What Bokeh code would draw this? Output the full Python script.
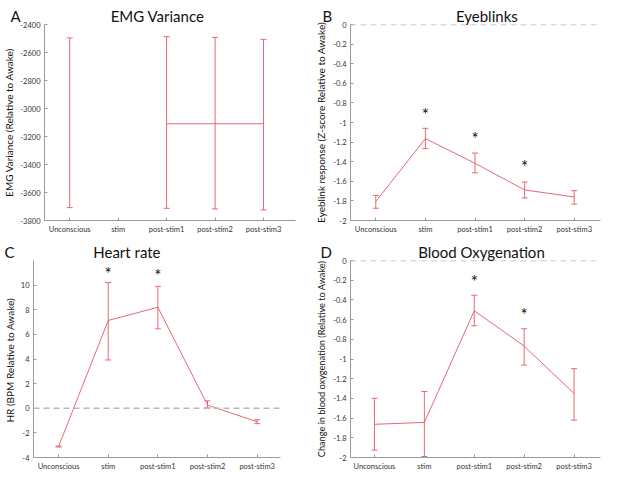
import math
from bokeh.plotting import figure
from bokeh.models import (Range1d, FixedTicker, Whisker, TeeHead, ColumnDataSource, Span)
from bokeh.layouts import column, row
from bokeh.embed import file_html
from bokeh.resources import INLINE
from bokeh.core.properties import value

nan = float("nan")

categories = ["Unconscious", "stim", "post-stim1", "post-stim2", "post-stim3"]

# Panel A: EMG variance
emg_mean = [-3102, nan, -3109, -3109, -3109]
emg_upper = [-2496, nan, -2487, -2492, -2506]
emg_lower = [-3708, nan, -3713, -3717, -3724]
emg_yticks = [-3800, -3600, -3400, -3200, -3000, -2800, -2600, -2400]
emg_ylabels = ["-3800", "-3600", "-3400", "-3200", "-3000", "-2800", "-2600", "-2400"]

# Panel B: Eyeblinks
blink_mean = [-1.806, -1.164, -1.416, -1.688, -1.760]
blink_upper = [-1.744, -1.059, -1.312, -1.607, -1.695]
blink_lower = [-1.875, -1.266, -1.514, -1.770, -1.833]
blink_star_cats = ["stim", "post-stim1", "post-stim2"]
blink_star_y = [-0.879, -1.125, -1.413]

# Panel C: Heart rate
hr_mean = [-3.11, 7.13, 8.20, 0.26, -1.10]
hr_upper = [-3.07, 10.21, 9.90, 0.60, -0.94]
hr_lower = [-3.15, 3.92, 6.45, 0.03, -1.25]
hr_star_cats = ["stim", "post-stim1"]
hr_star_y = [11.25, 11.07]
hr_yticks = [-4, -2, 0, 2, 4, 6, 8, 10]
hr_ylabels = ["-4", "-2", "0", "2", "4", "6", "8", "10"]

# Panel D: Blood oxygenation
oxy_mean = [-1.663, -1.644, -0.510, -0.869, -1.350]
oxy_upper = [-1.399, -1.330, -0.353, -0.693, -1.098]
oxy_lower = [-1.925, -1.990, -0.663, -1.062, -1.621]
oxy_star_cats = ["post-stim1", "post-stim2"]
oxy_star_y = [-0.176, -0.503]

frac_yticks = [0, -0.2, -0.4, -0.6, -0.8, -1, -1.2, -1.4, -1.6, -1.8, -2]
frac_ylabels = ["0", "-0.2", "-0.4", "-0.6", "-0.8", "-1", "-1.2", "-1.4", "-1.6", "-1.8", "-2"]

RED = "#e26a74"
AXIS = "#9a9a9a"
FONT = "Lato"
EM = "\u2003"
EN = "\u2002"


def panel(letter, gap, title, ylabel, means, uppers, lowers, yrange, yticks, ylabels,
          xrange, W, H, left, right, bottom, title_offset,
          ylabel_size, ylabel_standoff, star_cats=None, star_y=None, zero=False):
    p = figure(width=W, height=H, output_backend="svg", toolbar_location=None,
               x_range=Range1d(*xrange), y_range=Range1d(*yrange),
               min_border_left=left, min_border_right=right,
               min_border_top=24, min_border_bottom=bottom)
    p.outline_line_color = None
    p.grid.visible = False
    p.background_fill_color = "white"
    p.border_fill_color = "white"

    p.title.text = letter + gap + title
    p.title.align = "left"
    p.title.offset = title_offset
    p.title.standoff = 0
    p.title.text_font = FONT
    p.title.text_font_style = "normal"
    p.title.text_font_size = "15px"
    p.title.text_color = "#111111"

    xs = [i + 1 for i in range(len(categories))]
    p.xaxis.ticker = FixedTicker(ticks=xs)
    p.xaxis.major_label_overrides = {x: c for x, c in zip(xs, categories)}
    p.yaxis.ticker = FixedTicker(ticks=yticks)
    p.yaxis.major_label_overrides = {t: s for t, s in zip(yticks, ylabels)}
    for ax in (p.xaxis[0], p.yaxis[0]):
        ax.axis_line_color = AXIS
        ax.major_tick_line_color = AXIS
        ax.minor_tick_line_color = None
        ax.major_tick_in = 3
        ax.major_tick_out = 0
        ax.major_label_text_font = FONT
        ax.major_label_text_color = "#333333"
    p.xaxis.major_label_text_font_size = "7.5px"
    p.xaxis.major_label_standoff = 4
    p.yaxis.major_label_text_font_size = "7.5px"
    p.yaxis.major_label_standoff = 4
    p.yaxis.axis_label = ylabel
    p.yaxis.axis_label_text_font = FONT
    p.yaxis.axis_label_text_font_style = "normal"
    p.yaxis.axis_label_text_font_size = ylabel_size
    p.yaxis.axis_label_text_color = "#111111"
    p.yaxis.axis_label_standoff = ylabel_standoff

    if zero:
        p.add_layout(Span(location=0, dimension="width", line_color="#b8b8b8",
                          line_dash="6 4", line_width=1.5))

    p.line(xs, means, line_color=RED, line_width=1)
    keep = [i for i in range(len(xs)) if not math.isnan(means[i])]
    src = ColumnDataSource(dict(x=[xs[i] for i in keep],
                                upper=[uppers[i] for i in keep],
                                lower=[lowers[i] for i in keep]))
    p.add_layout(Whisker(base="x", upper="upper", lower="lower", source=src,
                         line_color=RED, line_width=1, level="glyph",
                         upper_head=TeeHead(size=6, line_color=RED, line_width=1),
                         lower_head=TeeHead(size=6, line_color=RED, line_width=1)))

    if star_cats:
        sx = [categories.index(c) + 1 for c in star_cats]
        p.text(sx, star_y, text=["*"] * len(sx), text_font=value(FONT),
               text_font_size="17px", text_align="center", text_baseline="alphabetic",
               y_offset=4, text_color="#111111")
    return p


pa = panel("A", EM * 8, "EMG Variance", "EMG Variance (Relative to Awake)",
           emg_mean, emg_upper, emg_lower, (-3800, -2400), emg_yticks, emg_ylabels,
           (0.48, 5.66), 300, 236, 35, 5, 15, -34, "10px", 2)
pb = panel("B", EM * 11, "Eyeblinks", "Eyeblink response (Z-score Relative to Awake)",
           blink_mean, blink_upper, blink_lower, (-2, 0), frac_yticks, frac_ylabels,
           (0.49, 5.53), 301, 236, 50, 1, 15, -28, "10px", 3,
           blink_star_cats, blink_star_y, zero=True)
pc = panel("C", EM * 7, "Heart rate", "HR  (BPM Relative to Awake)",
           hr_mean, hr_upper, hr_lower, (-4, 12), hr_yticks, hr_ylabels,
           (0.495, 5.47), 300, 237, 30, 20, 16, -29, "10px", 2,
           hr_star_cats, hr_star_y, zero=True)
pd_ = panel("D", EM * 7 + EN, "Blood Oxygenation", "Change in blood oxygenation (Relative to Awake)",
            oxy_mean, oxy_upper, oxy_lower, (-2, 0), frac_yticks, frac_ylabels,
            (0.52, 5.53), 301, 237, 50, 1, 16, -30, "9.2px", 3,
            oxy_star_cats, oxy_star_y, zero=True)

layout = column(row(pa, pb), row(pc, pd_))
open("out.html", "w").write(file_html(layout, INLINE))
